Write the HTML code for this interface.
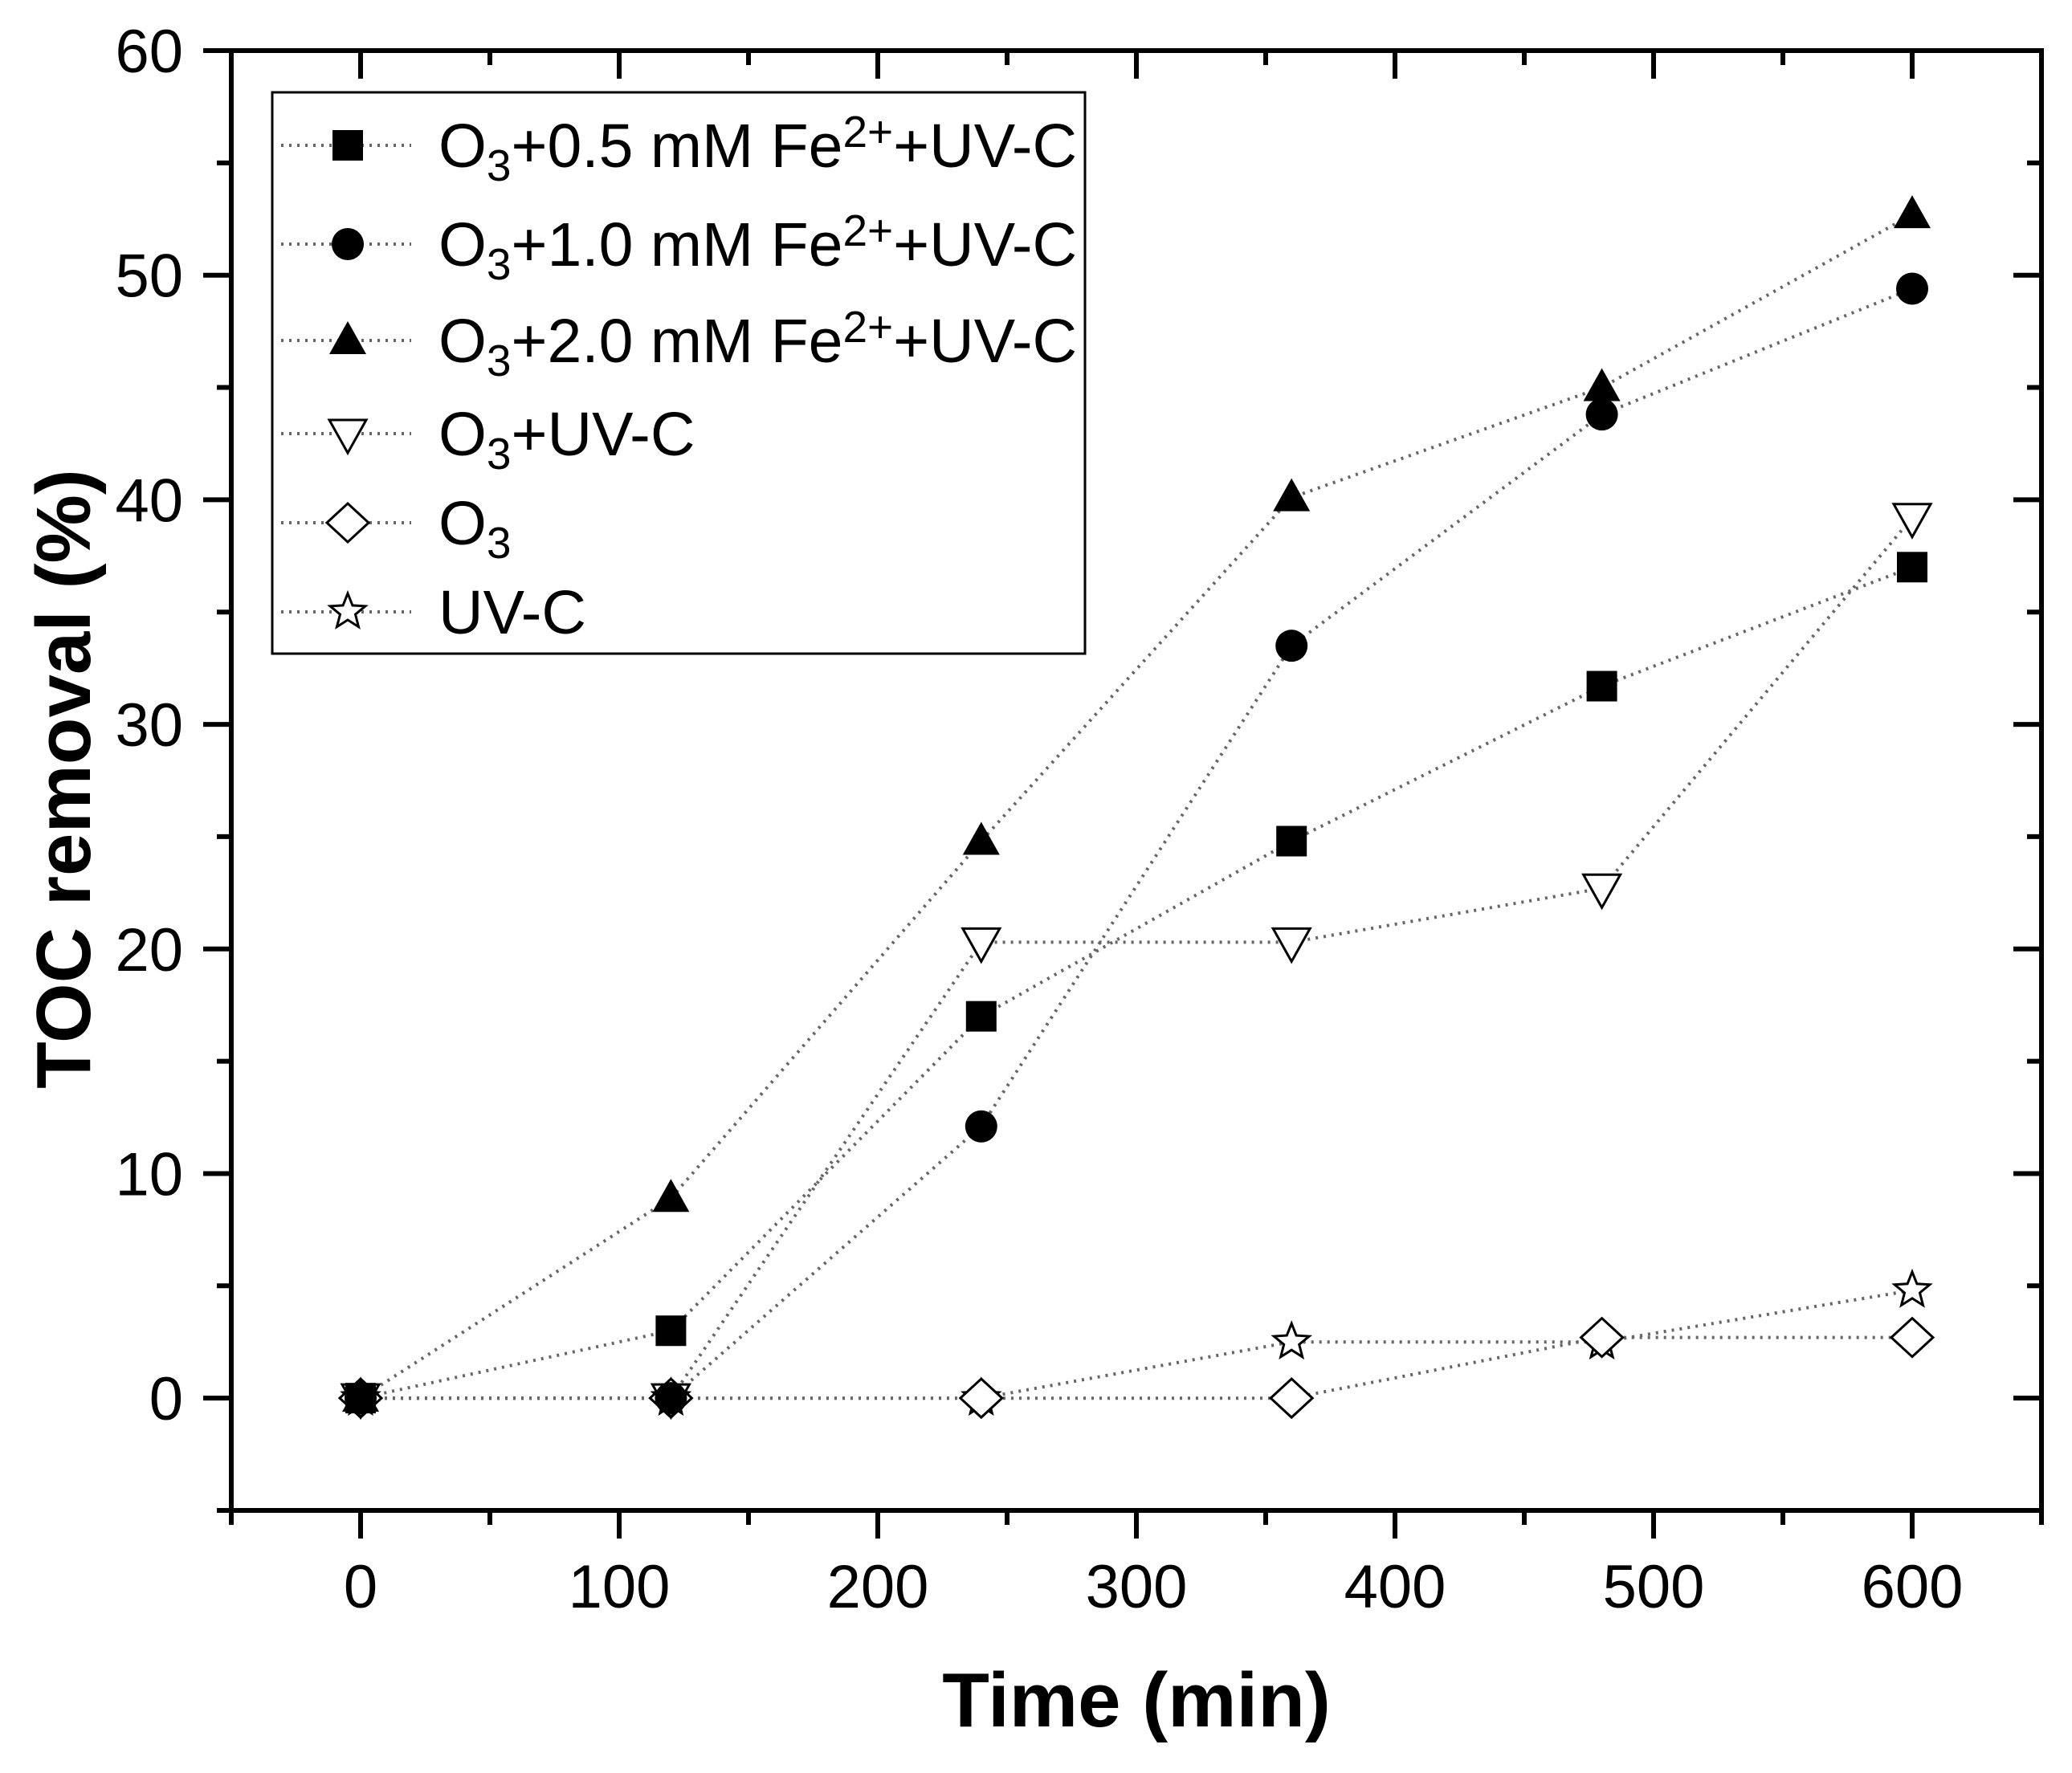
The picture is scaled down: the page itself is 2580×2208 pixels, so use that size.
<!DOCTYPE html>
<html><head><meta charset="utf-8"><style>
html,body{margin:0;padding:0;background:#fff;}
svg{display:block;font-family:"Liberation Sans",Arial,sans-serif;}
</style></head><body>
<svg id="chart" width="2580" height="2208" viewBox="0 0 2580 2208" xmlns="http://www.w3.org/2000/svg">
<g id="axes"></g>
<g id="series"></g>
<g id="legend"></g>
<text x="1415" y="2150" font-size="96" font-weight="bold" text-anchor="middle">Time (min)</text>
<text transform="translate(112,970) rotate(-90)" font-size="96" font-weight="bold" text-anchor="middle">TOC removal (%)</text>
</svg>
<script>
const times = [0, 120, 240, 360, 480, 600];
const fe05 = [0, 3, 17, 24.8, 31.7, 37];
const fe10 = [0, 0, 12.1, 33.5, 43.8, 49.4];
const fe20 = [0, 8.9, 24.8, 40.1, 45, 52.7];
const o3uv = [0, 0, 20.3, 20.3, 22.7, 39.2];
const o3only = [0, 0, 0, 0, 2.7, 2.7];
const uvonly = [0, 0, 0, 2.5, 2.5, 4.8];
const xTicks = [0, 100, 200, 300, 400, 500, 600];
const yTicks = [0, 10, 20, 30, 40, 50, 60];

const NS = "http://www.w3.org/2000/svg";
const L = 288, R = 2542, T = 63, B = 1881;
const xMin = -50, xMax = 650, yMin = -5, yMax = 60;
function sx(v){ return L + (v - xMin) / (xMax - xMin) * (R - L); }
function sy(v){ return B - (v - yMin) / (yMax - yMin) * (B - T); }
function mk(tag, attrs, parent){ const e = document.createElementNS(NS, tag); for (const k in attrs) e.setAttribute(k, attrs[k]); parent.appendChild(e); return e; }

const axes = document.getElementById('axes');
const frame = mk('rect', {x:L, y:T, width:R-L, height:B-T, fill:'none', stroke:'#000', 'stroke-width':6}, axes);


for (let v = -50; v <= 650; v += 50) {
  const major = v % 100 === 0;
  const len = major ? 35 : 18;
  const x = sx(v);
  const t1 = mk('line', {x1:x, y1:B, x2:x, y2:B+len, stroke:'#000', 'stroke-width':6}, axes);
  
  
  const t2 = mk('line', {x1:x, y1:T, x2:x, y2:T+len, stroke:'#000', 'stroke-width':6}, axes);
  
  
}
xTicks.forEach(v => {
  const t = mk('text', {x:sx(v), y:2002, 'font-size':76, 'text-anchor':'middle'}, axes);
  t.textContent = v;
  
  
});
for (let v = -5; v <= 60; v += 5) {
  const major = v % 10 === 0;
  const len = major ? 35 : 18;
  const y = sy(v);
  const t1 = mk('line', {x1:L-len, y1:y, x2:L, y2:y, stroke:'#000', 'stroke-width':6}, axes);
  
  
  const t2 = mk('line', {x1:R-len, y1:y, x2:R, y2:y, stroke:'#000', 'stroke-width':6}, axes);
  
  
}
yTicks.forEach(v => {
  const t = mk('text', {x:228, y:sy(v)+27, 'font-size':76, 'text-anchor':'end'}, axes);
  t.textContent = v;
  
  
});

function marker(type, x, y, parent){
  let e;
  if (type === 'square') e = mk('rect', {x:x-19, y:y-19, width:38, height:38, fill:'#000'}, parent);
  else if (type === 'circle') e = mk('circle', {cx:x, cy:y, r:20, fill:'#000'}, parent);
  else if (type === 'tri') e = mk('polygon', {points:`${x},${y-24} ${x+23},${y+17} ${x-23},${y+17}`, fill:'#000'}, parent);
  else if (type === 'dtri') e = mk('polygon', {points:`${x-23},${y-17} ${x+23},${y-17} ${x},${y+24}`, fill:'#fff', stroke:'#000', 'stroke-width':3}, parent);
  else if (type === 'diamond') e = mk('polygon', {points:`${x},${y-24} ${x+26},${y} ${x},${y+24} ${x-26},${y}`, fill:'#fff', stroke:'#000', 'stroke-width':3}, parent);
  else {
    let pts = [];
    for (let i = 0; i < 10; i++) { const r = i % 2 ? 10 : 23; const a = -Math.PI/2 + i*Math.PI/5; pts.push((x + r*Math.cos(a)).toFixed(1) + ',' + (y + r*Math.sin(a)).toFixed(1)); }
    e = mk('polygon', {points:pts.join(' '), fill:'#fff', stroke:'#000', 'stroke-width':3}, parent);
  }
  return e;
}

const seriesList = [
  {name:'series-fe-0-5', vals:fe05, m:'square', label:['O','3','+0.5 mM Fe','2+','+UV-C']},
  {name:'series-fe-1-0', vals:fe10, m:'circle', label:['O','3','+1.0 mM Fe','2+','+UV-C']},
  {name:'series-fe-2-0', vals:fe20, m:'tri', label:['O','3','+2.0 mM Fe','2+','+UV-C']},
  {name:'series-o3-uvc', vals:o3uv, m:'dtri', label:['O','3','+UV-C']},
  {name:'series-o3', vals:o3only, m:'diamond', label:['O','3']},
  {name:'series-uvc', vals:uvonly, m:'star', label:['UV-C']}
];
const sg = document.getElementById('series');
seriesList.forEach(s => {
  const pts = s.vals.map((v,i) => sx(times[i]).toFixed(1) + ',' + sy(v).toFixed(1)).join(' ');
  const pl = mk('polyline', {points:pts, fill:'none', stroke:'#666', 'stroke-width':4, 'stroke-dasharray':'3 7'}, sg);
  
  
});
seriesList.slice().reverse().forEach(s => {
  s.vals.forEach((v,i) => {
    const m = marker(s.m, sx(times[i]), sy(v), sg);
    
    
  });
});

const lg = document.getElementById('legend');
const box = mk('rect', {x:339, y:115, width:1012, height:699, fill:'#fff', stroke:'#000', 'stroke-width':3}, lg);


const rowY = [181, 304, 424, 540, 651, 762];
seriesList.forEach((s, i) => {
  const y = rowY[i];
  const g = mk('g', {}, lg);
  
  
  mk('line', {x1:350, y1:y, x2:512, y2:y, stroke:'#666', 'stroke-width':4, 'stroke-dasharray':'3 7'}, g);
  marker(s.m, 433, y, g);
  const t = mk('text', {x:546, y:y+27, 'font-size':77}, g);
  const parts = s.label;
  parts.forEach((p, j) => {
    const ts = mk('tspan', {}, t);
    ts.textContent = p;
    if (parts.length > 1 && j === 1) { ts.setAttribute('baseline-shift', '-30%'); ts.setAttribute('font-size', '55'); }
    if (j === 3) { ts.setAttribute('baseline-shift', '45%'); ts.setAttribute('font-size', '55'); }
  });
});
</script>
</body></html>
